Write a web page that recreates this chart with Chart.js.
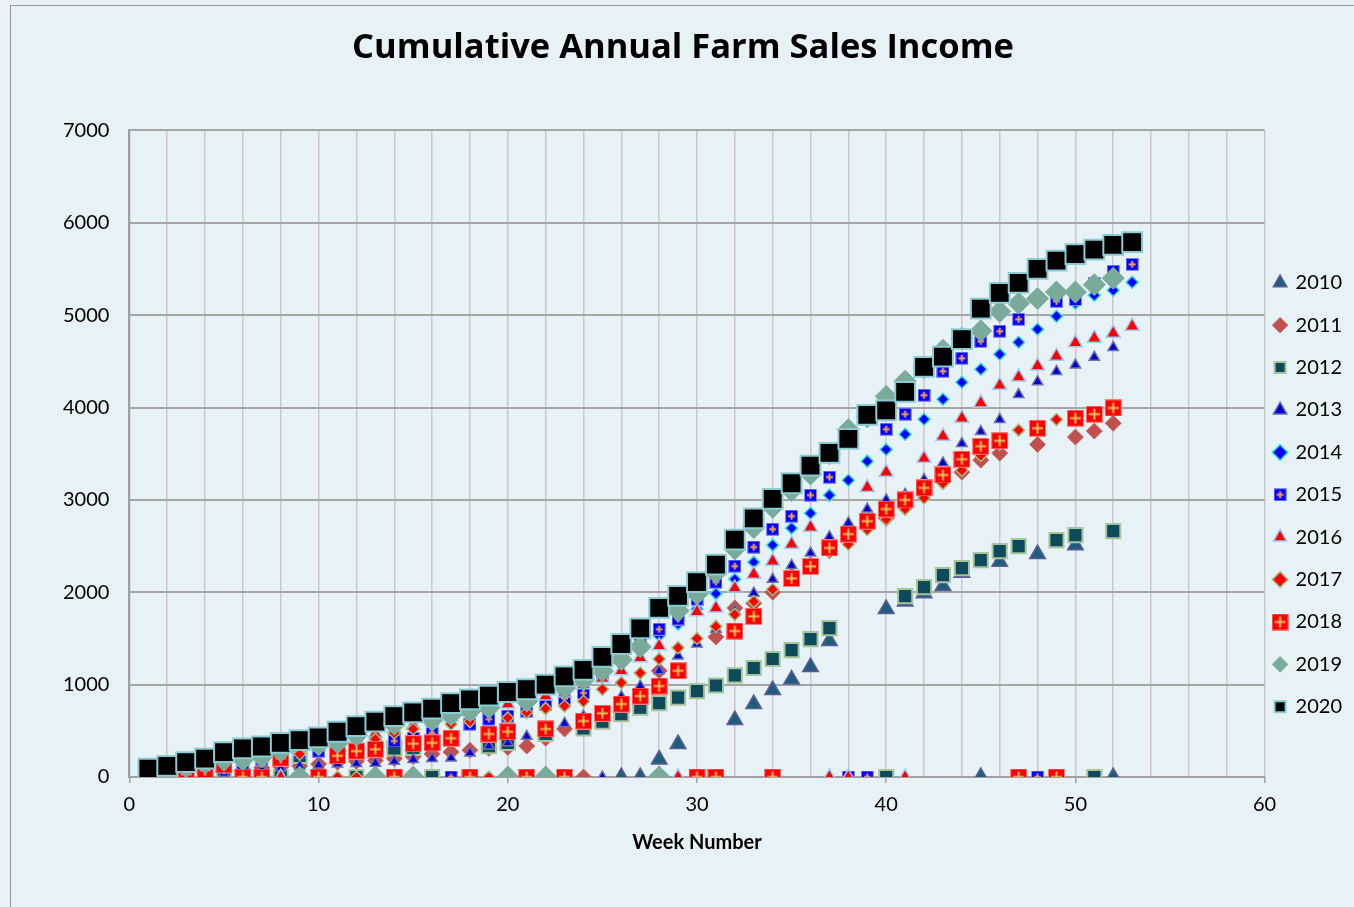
<!DOCTYPE html>
<html>
<head>
<meta charset="utf-8">
<script src="https://cdn.jsdelivr.net/npm/chart.js@4.4.1/dist/chart.umd.min.js"></script>
<style>
  html, body { margin: 0; padding: 0; background: #e6f2f6; }
  #frame { position: absolute; left: 10px; top: 5px; width: 1400px; height: 1000px;
           border-left: 1px solid #9a9a9a; border-top: 1px solid #9a9a9a; }
  #wrap { position: absolute; left: 0; top: 0; width: 1354px; height: 907px; }
</style>
</head>
<body>
<div id="frame"></div>
<div id="wrap"><canvas id="farmChart" width="1354" height="907"></canvas></div>
<script>
// weeks and cumulative sales per year (null = no point)
const weeks = [1,2,3,4,5,6,7,8,9,10,11,12,13,14,15,16,17,18,19,20,21,22,23,24,25,26,27,
  28,29,30,31,32,33,34,35,36,37,38,39,40,41,42,43,44,45,46,47,48,49,50,51,52,53];

const s2010 = [null,null,null,null,null,null,null,null,null,null,null,null,null,null,null,
  null,null,null,null,null,null,null,null,null,null,0,0,190,357,null,null,617,790,941,1055,
  1190,1471,null,null,1818,1900,1990,2067,2210,0,2330,null,2413,null,2510,null,0,null];
const s2011 = [0,10,20,40,60,80,100,110,120,140,160,170,180,200,220,250,270,290,310,320,
  335,420,520,0,null,null,null,1150,null,null,1515,1830,1880,2000,2180,2300,2450,2560,2700,
  2800,2920,3060,3200,3300,3430,3506,null,3600,null,3680,3745,3830,null];
const s2012 = [null,null,null,null,0,null,null,0,227,null,null,0,null,310,314,0,null,null,
  335,370,null,465,null,525,600,680,750,800,860,930,990,1100,1180,1277,1374,1493,1612,null,
  null,0,1958,2056,2185,2261,2348,2445,2500,null,2564,2618,0,2662,null];
const s2013 = [0,10,20,30,40,60,80,100,120,130,140,145,150,170,190,200,205,260,335,370,440,
  500,580,660,0,870,985,1150,1310,1440,1600,1800,1990,2140,2290,2424,2600,2750,2900,3000,
  3060,3220,3400,3610,3740,3870,4140,4280,4390,4460,4545,4650,null];
const s2014 = [80,110,150,190,250,290,320,360,390,440,500,540,600,650,690,720,770,800,830,
  850,880,920,980,1050,1110,1260,1400,1530,1655,1818,1985,2142,2326,2510,2694,2856,3051,
  3213,3419,3545,3711,3873,4090,4274,4414,4577,4707,4847,4988,5130,5215,5270,5356];
const s2015 = [0,20,30,50,100,150,190,230,260,280,335,357,380,390,420,476,0,573,627,660,
  714,780,850,910,1090,1330,1470,1600,1710,1926,2110,2283,2489,2683,2824,3051,3246,0,0,
  3765,3928,4133,4393,4534,4717,4826,4955,0,5150,5170,5345,5475,5550];
const s2016 = [20,30,50,80,130,170,200,0,280,330,380,420,470,520,560,600,650,700,750,790,
  830,876,910,1000,1070,1150,1290,1420,0,1790,1830,2045,2195,2337,2520,2705,0,0,3135,3300,
  0,3450,3690,3885,4050,4240,4330,4450,4555,4700,4750,4805,4880];
const s2017 = [0,10,30,60,100,140,170,200,250,300,0,0,410,476,520,563,573,600,0,640,700,
  740,768,820,950,1020,1125,1277,1400,1500,1630,1760,1900,2030,2150,2300,2450,2520,2680,
  2790,2900,3020,3180,3320,3480,3600,3755,3800,3870,null,null,null,null];
const s2018 = [0,10,30,75,130,0,0,205,null,0,230,280,300,0,360,370,420,0,465,490,0,520,0,
  606,690,790,876,985,1150,0,0,1580,1740,0,2150,2280,2480,2630,2770,2900,3000,3130,3270,
  3440,3580,3640,0,3776,0,3885,3928,3995,null];
const s2019 = [10,70,110,150,180,190,220,280,0,350,370,450,0,570,0,620,670,714,750,0,820,
  0,963,1050,1147,1270,1410,0,1800,1980,2210,2470,2700,2920,3100,3280,3500,3760,3900,4120,
  4285,4430,4620,4750,4830,5040,5130,5180,5250,5250,5330,5400,null];
const s2020 = [90,120,160,200,270,310,330,370,400,430,490,550,600,660,700,740,800,840,880,
  920,950,1000,1090,1160,1300,1440,1610,1830,1960,2110,2300,2570,2800,3010,3180,3370,3510,
  3660,3920,3970,4170,4440,4550,4740,5070,5240,5350,5500,5590,5660,5710,5760,5790];

const years = ['2010','2011','2012','2013','2014','2015','2016','2017','2018','2019','2020'];
const series = [s2010,s2011,s2012,s2013,s2014,s2015,s2016,s2017,s2018,s2019,s2020];

// square marker with a cross, like the Excel "plus in box" style
function crossSquare(size, fill, edge, cross) {
  const c = document.createElement('canvas');
  c.width = size; c.height = size;
  const g = c.getContext('2d');
  g.fillStyle = edge;
  g.fillRect(0, 0, size, size);
  g.fillStyle = fill;
  g.fillRect(1, 1, size - 2, size - 2);
  g.strokeStyle = cross;
  g.lineWidth = 2;
  g.beginPath();
  g.moveTo(size / 2, 3); g.lineTo(size / 2, size - 3);
  g.moveTo(3, size / 2); g.lineTo(size - 3, size / 2);
  g.stroke();
  return c;
}

const markers = [
  { style: 'triangle', r: 9,  fill: '#1f5d7c', edge: '#5c5a98', bw: 1.5 },
  { style: 'rectRot',  r: 8,  fill: '#c0504d', edge: '#d06a67', bw: 1 },
  { style: 'rect',     r: 10, fill: '#0d4a5c', edge: '#a8c49a', bw: 2 },
  { style: 'triangle', r: 6,  fill: '#0000d0', edge: '#6e6eaa', bw: 1.5 },
  { style: 'rectRot',  r: 6,  fill: '#0000ff', edge: '#30dede', bw: 1.5 },
  { style: crossSquare(13, '#0000ff', '#8a8aff', '#ffa040'), r: 7 },
  { style: 'triangle', r: 8,  fill: '#ff0000', edge: '#9ccaf5', bw: 1.5 },
  { style: 'rectRot',  r: 6,  fill: '#ff0000', edge: '#9fbb78', bw: 1.5 },
  { style: crossSquare(17, '#ff0000', '#ff7a7a', '#e8c060'), r: 9 },
  { style: 'rectRot',  r: 11, fill: '#7aab9a', edge: '#7aab9a', bw: 1 },
  { style: 'rect',     r: 14, fill: '#000000', edge: '#8ccbd4', bw: 2 }
];

const datasets = years.map((yr, i) => {
  const pts = [];
  series[i].forEach((v, k) => { if (v !== null) pts.push({ x: weeks[k], y: v }); });
  const m = markers[i];
  return {
    label: yr,
    data: pts,
    order: years.length - i, // later years drawn on top
    pointStyle: m.style,
    pointRadius: m.r,
    pointHoverRadius: m.r,
    backgroundColor: m.fill || '#000',
    borderColor: m.edge || '#000',
    borderWidth: m.bw || 0,
    showLine: false
  };
});

const font = "Lato, 'Open Sans', sans-serif";

new Chart(document.getElementById('farmChart').getContext('2d'), {
  type: 'scatter',
  data: { datasets: datasets },
  options: {
    responsive: false,
    animation: false,
    layout: { padding: { left: 14, right: 2, top: 0, bottom: 48 } },
    plugins: {
      title: {
        display: true,
        text: 'Cumulative Annual Farm Sales Income',
        color: '#000',
        font: { family: "'Open Sans', sans-serif", size: 34.5, weight: 'bold' },
        padding: { top: 27, bottom: 62 }
      },
      legend: {
        position: 'right',
        title: { display: true, text: ' ', font: { size: 10 }, padding: { top: 131, bottom: 0 } },
        labels: {
          usePointStyle: true,
          boxWidth: 11,
          boxHeight: 11,
          padding: 10,
          color: '#000',
          font: { family: font, size: 20, lineHeight: 1.62 },
          sort: (a, b) => a.datasetIndex - b.datasetIndex,
          generateLabels: chart => {
            const items = Chart.defaults.plugins.legend.labels.generateLabels(chart);
            items.forEach(it => { it.text = [it.text]; });
            return items;
          }
        }
      },
      tooltip: { enabled: false }
    },
    scales: {
      x: {
        type: 'linear',
        min: 0, max: 60,
        ticks: {
          stepSize: 2,
          autoSkip: false,
          maxRotation: 0,
          padding: 10,
          color: '#000',
          font: { family: font, size: 20 },
          callback: v => (v % 10 === 0 ? v : '')
        },
        grid: {
          color: '#c8c8c8',
          lineWidth: 1.5,
          tickLength: 6,
          tickColor: c => (c.tick && c.tick.value % 10 === 0 ? '#a0a0a0' : 'rgba(0,0,0,0)')
        },
        border: { color: '#a0a0a0', width: 2 },
        title: {
          display: true,
          text: 'Week Number',
          color: '#000',
          font: { family: font, size: 20, weight: 'bold' },
          padding: { top: 4 }
        }
      },
      y: {
        min: 0, max: 7000,
        afterFit: scale => { scale.width += 29; },
        ticks: {
          stepSize: 1000,
          padding: 20,
          color: '#000',
          font: { family: font, size: 20 },
          callback: v => String(v)
        },
        grid: { color: '#a6a6a6', lineWidth: 2, tickLength: 0 },
        border: { color: '#a0a0a0', width: 2 }
      }
    }
  }
});
</script>
</body>
</html>
